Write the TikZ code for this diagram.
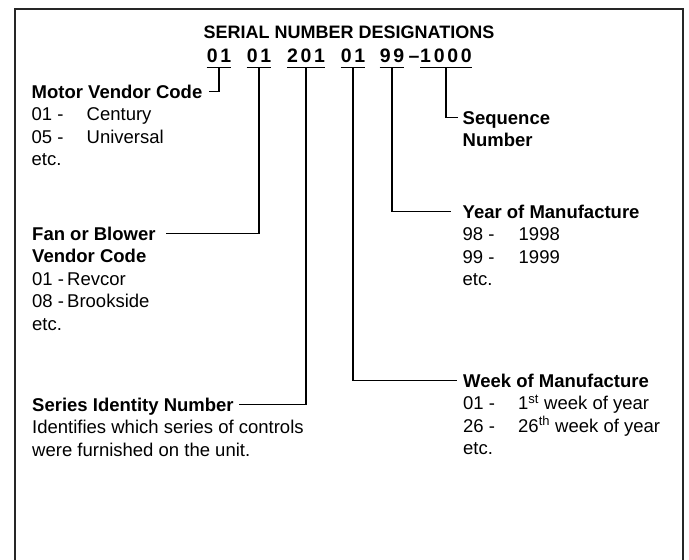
\documentclass[tikz,border=0pt]{standalone}
\usepackage{fontspec}
\setmainfont{Liberation Sans}
\newfontfamily\digitfont[LetterSpace=14]{Liberation Sans}
\begin{document}
\begin{tikzpicture}[x=1pt,y=-1pt,
    heading/.style={anchor=base west,inner sep=0pt,text height=13pt,text depth=0pt,
      font=\fontsize{18.5}{22.5}\selectfont\bfseries},
    listing/.style={anchor=base west,inner sep=0pt,align=left,
      font=\fontsize{18.5}{22.5}\selectfont},
    digits/.style={anchor=base,inner xsep=0pt,inner ysep=5pt,
      font=\digitfont\fontsize{19.5}{22}\selectfont\bfseries},
    leader/.style={line width=1.2pt}]
  \useasboundingbox (0,0) rectangle (689,560);
  % frame, open at the bottom
  \draw[line width=2.5pt,black!85] (15,580) -- (15,9) -- (683,9) -- (683,580);
  \node[anchor=base,inner sep=0pt,font=\fontsize{18}{22}\selectfont\bfseries] (title) at (349,38) {SERIAL NUMBER DESIGNATIONS};

  % the serial number, one group per field
  \foreach \name/\x/\num in {g1/219/01,g2/259/01,g3/306/201,g4/353/01,g5/392/99,g6/446/1000} {
    \node[digits] (\name) at (\x,62) {\num};
    \draw[line width=1.5pt] (\name.south west) -- (\name.south east);
  }
  \node[digits] (dash) at (414,62) {\textendash};

  % left column (lists are placed by their last line)
  \node[heading] (motor) at (31.5,98) {Motor Vendor Code};
  \node[listing] (motorlist) at (31.5,165.5) {\makebox[55pt][l]{01 -}Century\\\makebox[55pt][l]{05 -}Universal\\etc.};
  \node[heading] (fan) at (32,240) {Fan or Blower};
  \node[listing] (fanlist) at (32,330) {\textbf{Vendor Code}\\\makebox[35pt][l]{01 -}Revcor\\\makebox[35pt][l]{08 -}Brookside\\etc.};
  \node[heading] (series) at (32,411) {Series Identity Number};
  \node[listing] (serieslist) at (32,456) {Identifies which series of controls\\were furnished on the unit.};

  % right column
  \node[heading] (seq) at (462.5,124) {Sequence};
  \node[listing] (seqlist) at (462.5,146.5) {\textbf{Number}};
  \node[heading] (year) at (462.5,218) {Year of Manufacture};
  \node[listing] (yearlist) at (462.5,285.5) {\makebox[56pt][l]{98 -}1998\\\makebox[56pt][l]{99 -}1999\\etc.};
  \node[heading] (week) at (463,387) {Week of Manufacture};
  \node[listing] (weeklist) at (463,454.5) {\makebox[55pt][l]{01 -}1\textsuperscript{st} week of year\\\makebox[55pt][l]{26 -}26\textsuperscript{th} week of year\\etc.};

  % leaders
  \draw[leader,shorten >=6pt] (g1.south) |- (motor.east);
  \draw[leader,shorten >=10pt] (g2.south) |- (fan.east);
  \draw[leader,shorten >=5pt] (g3.south) |- (series.east);
  \draw[leader,shorten >=6pt] (g4.south) |- (week.west);
  \draw[leader,shorten >=12pt] (g5.south) |- (year.west);
  \draw[leader,shorten >=5pt] (g6.south) |- (seq.west);
\end{tikzpicture}
\end{document}
